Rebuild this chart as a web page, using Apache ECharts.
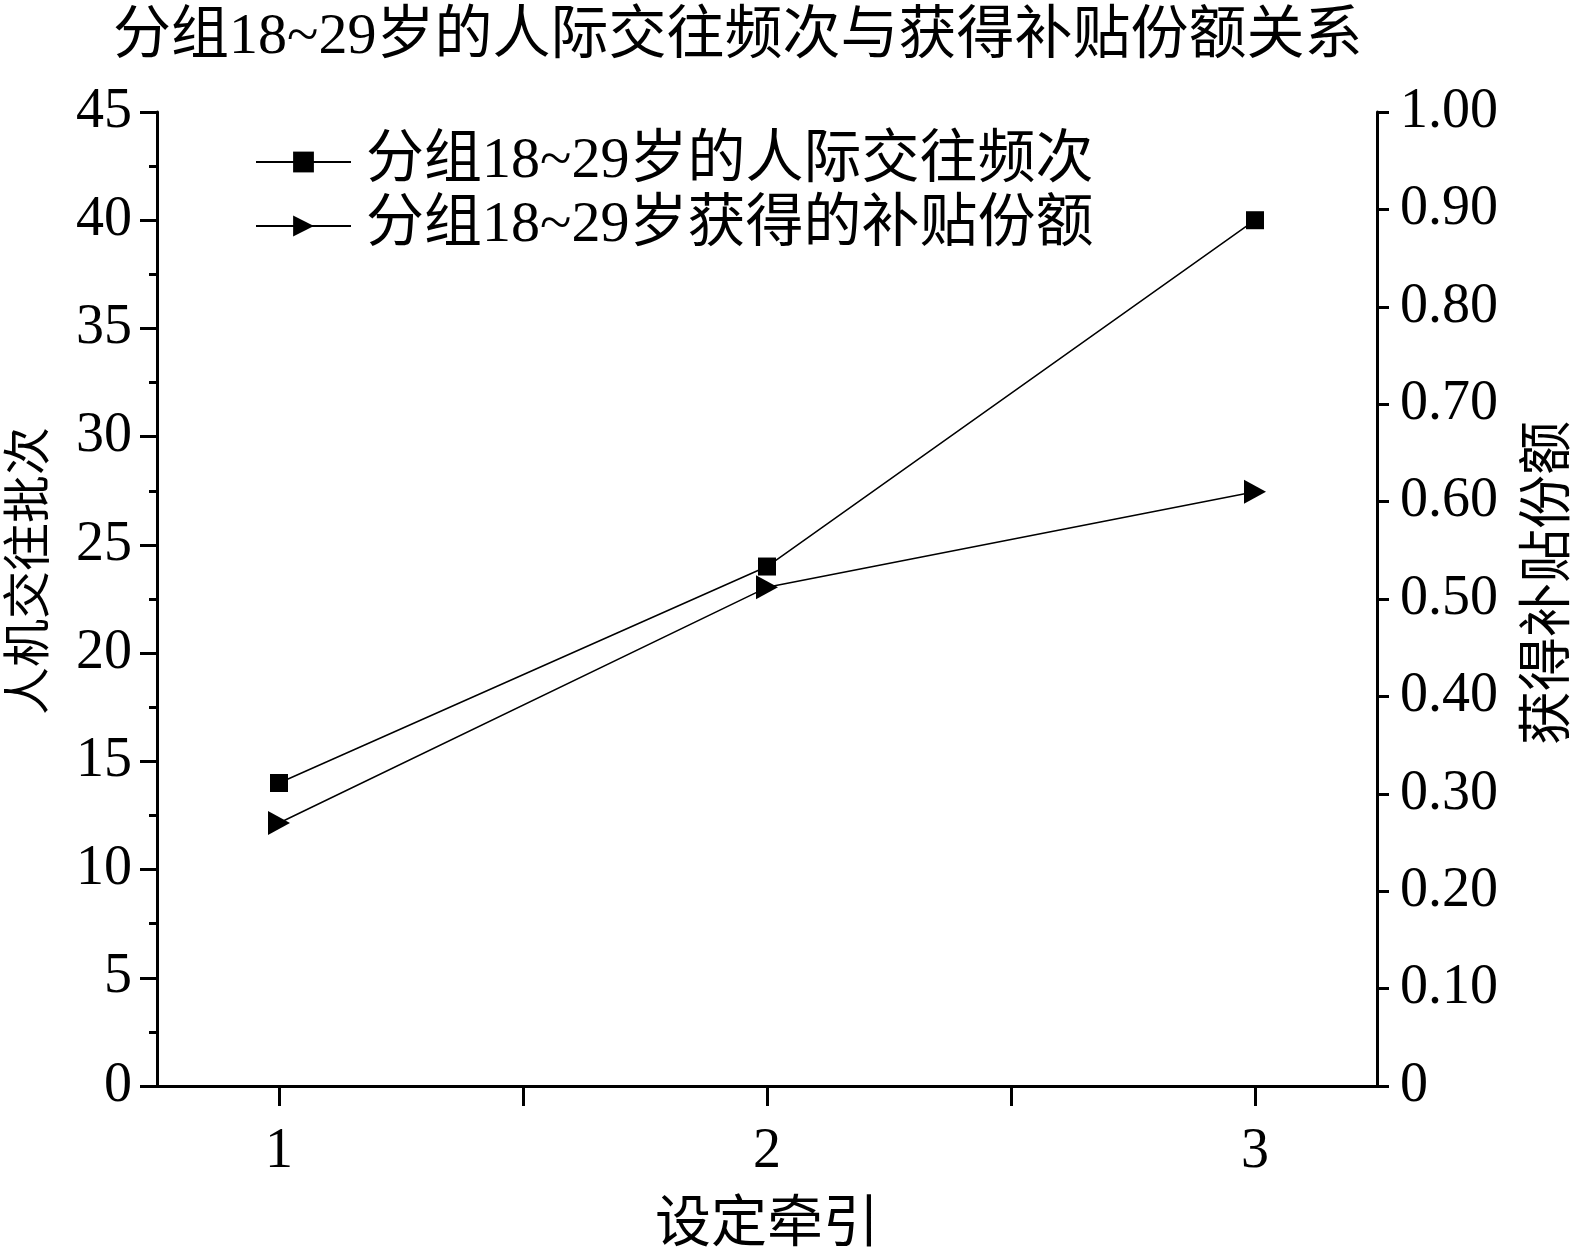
<!DOCTYPE html>
<html>
<head>
<meta charset="utf-8">
<script src="https://cdn.jsdelivr.net/npm/echarts@6/dist/echarts.min.js"></script>
<style>
html,body{margin:0;padding:0;background:#fff;}
#main{width:1576px;height:1249px;}
</style>
</head>
<body>
<div id="main"></div>
<script>
// ---- data ----
var titleText = '分组18~29岁的人际交往频次与获得补贴份额关系';
var xValues = [1, 2, 3];
var xLabelValues = [1, 2, 3];
var xTickValues = [1, 1.5, 2, 2.5, 3];
var seriesNames = ['分组18~29岁的人际交往频次', '分组18~29岁获得的补贴份额'];
var frequency = [14, 24, 40];
var subsidyShare = [0.27, 0.512, 0.61];
var xAxisName = '设定牵引';
var yLeftName = '人机交往批次';
var yRightName = '获得补贴份额';

var serifFont = '"Liberation Serif", "Noto Sans CJK SC", serif';
var cjkFont = '"Liberation Serif", "Noto Sans CJK SC", sans-serif';

function pairs(xs, ys) { return xs.map(function (x, i) { return [x, ys[i]]; }); }

var chart = echarts.init(document.getElementById('main'), null, {renderer: 'canvas'});
var axisLine = {show: true, lineStyle: {color: '#000', width: 3}};
var option = {
  animation: false,
  backgroundColor: '#fff',
  title: {
    text: titleText, left: 108, top: 4,
    textStyle: {fontFamily: cjkFont, fontSize: 58, fontWeight: 'normal', color: '#000'}
  },
  legend: {
    orient: 'vertical', left: 250, top: 128, itemWidth: 95, itemHeight: 26, itemGap: 6,
    textStyle: {fontFamily: cjkFont, fontSize: 58, color: '#000', lineHeight: 56, padding: [0, 0, 0, 10]},
    data: seriesNames
  },
  grid: {left: 157, right: 199, top: 112, bottom: 163, containLabel: false, outerBoundsMode: 'none'},
  xAxis: {
    type: 'value', min: 0.75, max: 3.25,
    name: xAxisName, nameLocation: 'middle', nameGap: 112,
    nameTextStyle: {fontFamily: cjkFont, fontSize: 56, color: '#000'},
    axisLine: axisLine,
    axisTick: {show: true, inside: false, length: 20, lineStyle: {color: '#000', width: 3}, customValues: xTickValues},
    axisLabel: {show: true, margin: 38, fontFamily: serifFont, fontSize: 56, color: '#000', customValues: xLabelValues},
    splitLine: {show: false}
  },
  yAxis: [{
    type: 'value', min: 0, max: 45, interval: 5, position: 'left',
    name: yLeftName, nameLocation: 'middle', nameGap: 102, nameRotate: 90,
    nameTextStyle: {fontFamily: cjkFont, fontSize: 48, color: '#000', padding: [0, 0, 0, 56]},
    axisLine: axisLine,
    axisTick: {show: true, length: 17, lineStyle: {color: '#000', width: 3}},
    minorTick: {show: true, splitNumber: 2, length: 8, lineStyle: {color: '#000', width: 3}},
    axisLabel: {margin: 25, fontFamily: serifFont, fontSize: 56, color: '#000'},
    splitLine: {show: false}
  }, {
    type: 'value', min: 0, max: 1, interval: 0.1, position: 'right',
    name: yRightName, nameLocation: 'middle', nameGap: 147, nameRotate: 90,
    nameTextStyle: {fontFamily: cjkFont, fontSize: 54, color: '#000', padding: [0, 0, 0, 32]},
    axisLine: axisLine,
    axisTick: {show: true, length: 12, lineStyle: {color: '#000', width: 3}},
    axisLabel: {margin: 23, fontFamily: serifFont, fontSize: 56, color: '#000',
      formatter: function (v) { return v === 0 ? '0' : v.toFixed(2); }},
    splitLine: {show: false}
  }],
  series: [{
    name: seriesNames[0], type: 'line', yAxisIndex: 0,
    data: pairs(xValues, frequency),
    symbol: 'rect', symbolSize: 18,
    lineStyle: {color: '#000', width: 1.5},
    itemStyle: {color: '#000'}
  }, {
    name: seriesNames[1], type: 'line', yAxisIndex: 1,
    data: pairs(xValues, subsidyShare),
    symbol: 'triangle', symbolSize: [24, 22], symbolRotate: -90,
    lineStyle: {color: '#000', width: 1.5},
    itemStyle: {color: '#000'}
  }]
};
chart.setOption(option);
</script>
</body>
</html>
